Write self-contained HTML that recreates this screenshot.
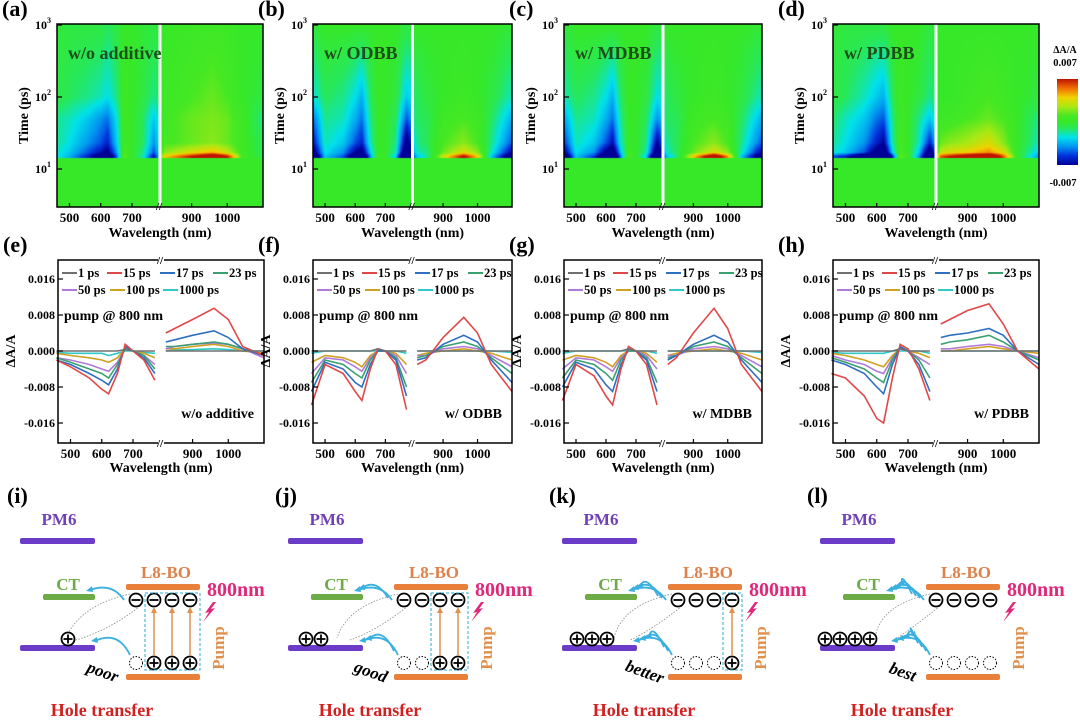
<!DOCTYPE html>
<html><head><meta charset="utf-8">
<style>
html,body{margin:0;padding:0;background:#fff;}
#root{position:relative;width:1080px;height:720px;overflow:hidden;font-family:"Liberation Serif",serif;}
canvas{position:absolute;}
svg{position:absolute;left:0;top:0;}
text{font-family:"Liberation Serif",serif;font-weight:bold;}
</style></head>
<body>
<div id="root">
<svg id="svg" width="1080" height="720"></svg>
</div>
<script>
// ---- data ----
const wavelengths = [455,500,560,600,622,650,675,700,735,770, 825,850,900,960,1000,1040,1100];
const seriesNames = ["1 ps","15 ps","17 ps","23 ps","50 ps","100 ps","1000 ps"];
const seriesTimes = [1,15,17,23,50,100,1000];
const seriesColors = ["#707070","#e04848","#2f6fc0","#3aa070","#b07ad8","#d0a020","#30c8c8"];
const panelNames = ["w/o additive","w/ ODBB","w/ MDBB","w/ PDBB"];
const yTicks = [0.016,0.008,0,-0.008,-0.016];
const yTickLabels = ["0.016","0.008","0.000","-0.008","-0.016"];
const xTicks = [500,600,700,900,1000];
// values in units of 1e-3
const e1 = [0,0,0,0,0,0,0.3,0,0,0, 0,0,0,0,0,0,0];
const e15 = [-2,-3.5,-6,-8.5,-9.5,-5,1.5,0,-2,-6.5, 4,5,7,9.5,7,1,-1];
const e17 = [-2,-3,-5,-6.5,-7.5,-4,1,0,-1.5,-5, 2,2.5,3.5,4.5,3,0.5,-1];
const e23 = [-1.5,-2.5,-4,-5,-6,-3,0.5,0,-1,-4, 1,1,1.5,2,1.5,0.5,-1];
const e50 = [-1.5,-2,-3,-4,-4.5,-2.5,0.5,0,-1,-3, 0.5,1,1.5,1.8,1.5,0.5,-1.5];
const e100 = [-0.5,-1,-1.5,-2,-2.5,-1.5,0.5,0,-0.5,-1.5, 0.5,0.5,1,1.5,1,0,-0.5];
const e1000 = [-0.3,-0.5,-0.5,-0.5,-1,-0.5,0,0,-0.3,-0.5, 0,0.2,0.3,0.5,0.3,0,0];
const f1 = [0,0,0,0,0,0,0.5,0,0,0, 0,0,0,0,0,0,0];
const f15 = [-12,-3,-5,-9,-11,-4,0.5,0,-3,-13, -3,-2,3,7.5,4,-3,-9];
const f17 = [-9,-2.5,-4,-7,-8,-3,0,0,-2,-10, -2,-1.5,1.5,3.5,2,-2,-7];
const f23 = [-7,-2,-3,-5,-6,-2,0,0,-1.5,-8, -1.5,-1,1,2,1,-1.5,-5];
const f50 = [-5,-1.5,-2,-3.5,-4.5,-1.5,0,0,-1,-5, -1,-1,0.5,1,0.5,-1,-3.5];
const f100 = [-2.5,-1,-1.5,-2.5,-3.5,-1,0,0,-0.5,-3, -1,-0.5,0,0.5,0,-0.5,-2];
const f1000 = [-0.5,0,0,0,0,0,0,0,0,-0.5, 0,0,0,0,0,0,-0.3];
const g1 = [0,0,0,0,0,0,0.5,0,0,0, 0,0,0,0,0,0,0];
const g15 = [-11,-3,-5.5,-10,-12,-4,1,0,-3,-12, -3,-1.5,4,9.5,5,-3,-9];
const g17 = [-8,-2.5,-4,-7.5,-9,-3,0.5,0,-2,-9, -2,-1,1.5,3.5,2,-2,-7];
const g23 = [-6,-2,-3,-5,-6.5,-2,0,0,-1.5,-7, -1.5,-1,1,2,1,-1.5,-5];
const g50 = [-4,-1.5,-2,-3.5,-4.5,-1.5,0,0,-1,-4, -1,-1,0.5,1,0.5,-1,-3.5];
const g100 = [-2,-1,-1.5,-2.5,-3.5,-1,0,0,-0.5,-2.5, -1,-0.5,0,0.5,0,-0.5,-2];
const g1000 = [-0.5,0,0,0,0,0,0,0,0,-0.5, 0,0,0,0,0,0,-0.3];
const h1 = [0,0,0,0,0,0,0.5,0,0,0, 0,0,0,0,0,0,0];
const h15 = [-5,-6,-10,-15,-16,-6,1.5,0.5,-4,-11, 6,7,9,10.5,6,0,-4];
const h17 = [-2,-3,-5,-8,-9.5,-3,1,0,-3,-9, 3,3.5,4,5,3.5,0,-3];
const h23 = [-1.5,-2.5,-4,-6,-7,-2,1,0,-2,-6, 1.5,2,2.5,3.5,2,0,-2];
const h50 = [-1,-2,-3,-4.5,-5,-1.5,0.5,0,-1.5,-3, 0.5,0.5,1,1.5,1,0,-1.5];
const h100 = [-0.5,-1,-2,-3,-3.5,-1,0.5,0,-0.5,-1.5, 0,0,0.5,1,0.5,0,-0.5];
const h1000 = [-0.3,-0.5,-0.5,-0.5,-0.5,0,0,0,0,-0.5, 0,0,0,0,0,0,0];
const panelSeries = [
  [e1,e15,e17,e23,e50,e100,e1000],
  [f1,f15,f17,f23,f50,f100,f1000],
  [g1,g15,g17,g23,g50,g100,g1000],
  [h1,h15,h17,h23,h50,h100,h1000]
];
const holesTransferred = [1,2,3,4];
const transferWords = ["poor","good","better","best"];

// ---- layout ----
const topL=[57,313,564,833], topW=[206,199,198,206], topT=24, topB=207;
const spL=[58,313,564,833], spW=[206,199,198,206], spT=260, spB=443;
const diagDX=[0,268,542,800];
const topLetters=["(a)","(b)","(c)","(d)"], spLetters=["(e)","(f)","(g)","(h)"], dLetters=["(i)","(j)","(k)","(l)"];

const NS="http://www.w3.org/2000/svg";
const svg=document.getElementById('svg');
function mk(tag,attrs,parent,txt){const e=document.createElementNS(NS,tag);for(const k in attrs)e.setAttribute(k,attrs[k]);if(txt!==undefined)e.textContent=txt;(parent||svg).appendChild(e);return e;}

function xScale(w,L,W){
  const half=W/2;
  if(w<=790) return L+(w-460)/(780-460)*(half-3);
  return L+half+3+(w-820)/(1100-820)*(half-3);
}
function yTime(t){return 169-(Math.log10(t)-1)*72;}
function ySpec(v){return 351-v*4.5;}

function interp(arr,w){
  if(w<=wavelengths[0])return arr[0];
  for(let i=0;i<wavelengths.length-1;i++){
    if(w<=wavelengths[i+1]){const a=wavelengths[i],b=wavelengths[i+1];return arr[i]+(arr[i+1]-arr[i])*(w-a)/(b-a);}
  }
  return arr[arr.length-1];
}
function valueAt(p,w,t){
  if(t<14)return 0;
  const s=panelSeries[p];
  if(t<=15)return interp(s[1],w);
  const lt=Math.log10(t);
  for(let i=1;i<seriesTimes.length-1;i++){
    if(t<=seriesTimes[i+1]){
      const a=Math.log10(seriesTimes[i]),b=Math.log10(seriesTimes[i+1]);
      const f=(lt-a)/(b-a);
      return interp(s[i],w)*(1-f)+interp(s[i+1],w)*f;
    }
  }
  return interp(s[6],w);
}
const cStops=[[-7,[0,0,150]],[-5.5,[0,50,220]],[-4,[0,150,240]],[-2.5,[0,225,235]],[-1,[40,232,90]],[0,[55,232,40]],[1,[70,232,35]],[2.5,[170,232,20]],[4,[240,210,0]],[5.5,[240,110,0]],[7,[190,20,0]]];
function cmap(v){
  if(v<=cStops[0][0])return cStops[0][1];
  for(let i=0;i<cStops.length-1;i++){
    if(v<=cStops[i+1][0]){const f=(v-cStops[i][0])/(cStops[i+1][0]-cStops[i][0]);
      return cStops[i][1].map((c,k)=>Math.round(c+(cStops[i+1][1][k]-c)*f));}
  }
  return cStops[cStops.length-1][1];
}
function invX(x,L,W){
  const half=W/2;
  if(x<L+half) return 460+(x-L)/(half-3)*(780-460);
  return 820+(x-L-half-3)/(half-3)*(1100-820);
}

const root=document.getElementById('root');
// ---- heatmaps ----
for(let p=0;p<4;p++){
  const L=topL[p],W=topW[p],H=topB-topT;
  const cv=document.createElement('canvas');
  cv.width=W;cv.height=H;cv.style.left=L+'px';cv.style.top=topT+'px';
  
  
  root.insertBefore(cv,svg);
  const ctx=cv.getContext('2d');const img=ctx.createImageData(W,H);
  for(let y=0;y<H;y++){
    const t=Math.pow(10,1+(169-(topT+y+0.5))/72);
    for(let x=0;x<W;x++){
      const w=invX(L+x+0.5,L,W);
      const c=cmap(valueAt(p,w,t));
      const i=(y*W+x)*4;img.data[i]=c[0];img.data[i+1]=c[1];img.data[i+2]=c[2];img.data[i+3]=255;
    }
  }
  ctx.putImageData(img,0,0);
  const g=mk('g',{});
  const bx=L+W/2;
  mk('rect',{x:bx-1.5,y:topT,width:3,height:H,fill:'#fff'},g);
  mk('rect',{x:L,y:topT,width:W,height:H,fill:'none',stroke:'#000','stroke-width':1.5},g);
  mk('text',{x:L-55,y:16,'font-size':22},g,topLetters[p]);
  mk('text',{x:L+11,y:59,'font-size':18,fill:'#1c4f1c'},g,panelNames[p]);
  [1000,100,10].forEach((t,i)=>{
    const y=yTime(t);
    mk('line',{x1:L,x2:L+5,y1:y,y2:y,stroke:'#000','stroke-width':1.2},g);
    const tx=mk('text',{x:L-22,y:y+4,'font-size':12},g,'10');
    mk('tspan',{'font-size':8,dy:-6},tx,String(3-i));
  });
  xTicks.forEach(w=>{
    const x=xScale(w,L,W);
    mk('line',{x1:x,x2:x,y1:topB,y2:topB-4,stroke:'#000','stroke-width':1.2},g);
    mk('text',{x:x,y:222,'font-size':13,'text-anchor':'middle'},g,String(w));
  });
  mk('text',{x:bx-4,y:topB+3,'font-size':11},g,'//');
  mk('text',{x:L+W/2,y:237,'font-size':14,'text-anchor':'middle',},g,'Wavelength (nm)');
  mk('text',{x:0,y:0,'font-size':14,'text-anchor':'middle',transform:`translate(${L-29},${(topT+topB)/2}) rotate(-90)`,},g,'Time (ps)');
}
// colorbar
(function(){
  const g=mk('g',{});
  const defs=mk('defs',{},g);
  const lg=mk('linearGradient',{id:'cbg',x1:0,y1:1,x2:0,y2:0},defs);
  cStops.forEach(s=>mk('stop',{offset:((s[0]+7)/14*100)+'%','stop-color':`rgb(${s[1].join(',')})`},lg));
  mk('rect',{x:1057,y:79,width:21,height:86,fill:'url(#cbg)'},g);
  mk('text',{x:1065,y:53,'font-size':10,'text-anchor':'middle'},g,'ΔA/A');
  mk('text',{x:1065,y:66,'font-size':10.5,'text-anchor':'middle'},g,'0.007');
  mk('text',{x:1063,y:186,'font-size':10.5,'text-anchor':'middle'},g,'-0.007');
})();

// ---- spectra ----
for(let p=0;p<4;p++){
  const L=spL[p],W=spW[p];
  const g=mk('g',{});
  mk('text',{x:L-55,y:252,'font-size':22},g,spLetters[p]);
  const s=panelSeries[p];
  const order=[6,5,4,3,2,1,0];
  order.forEach(k=>{
    const arr=s[k];
    const left=[],right=[];
    wavelengths.forEach((w,i)=>{const pt=xScale(w,L,W).toFixed(1)+','+ySpec(arr[i]).toFixed(1);(w<790?left:right).push(pt);});
    const sg=mk('g',{},g);
    mk('polyline',{points:left.join(' '),fill:'none',stroke:seriesColors[k],'stroke-width':1.6},sg);
    mk('polyline',{points:right.join(' '),fill:'none',stroke:seriesColors[k],'stroke-width':1.6},sg);
  });
  mk('rect',{x:L,y:spT,width:W,height:spB-spT,fill:'none',stroke:'#000','stroke-width':1.5},g);
  const bx=L+W/2;
  mk('rect',{x:bx-3,y:spT-3,width:6,height:6,fill:'#fff'},g);
  mk('rect',{x:bx-3,y:spB-3,width:6,height:6,fill:'#fff'},g);
  mk('text',{x:bx-4,y:spT+4,'font-size':11},g,'//');
  mk('text',{x:bx-4,y:spB+4,'font-size':11},g,'//');
  yTicks.forEach((v,i)=>{
    const y=ySpec(v*1000);
    mk('line',{x1:L,x2:L+5,y1:y,y2:y,stroke:'#000','stroke-width':1.2},g);
    mk('text',{x:L-3,y:y+4,'font-size':12,'text-anchor':'end'},g,yTickLabels[i]);
  });
  xTicks.forEach(w=>{
    const x=xScale(w,L,W);
    mk('line',{x1:x,x2:x,y1:spB,y2:spB-4,stroke:'#000','stroke-width':1.2},g);
    mk('text',{x:x,y:458,'font-size':13,'text-anchor':'middle'},g,String(w));
  });
  mk('text',{x:L+W/2,y:472,'font-size':14,'text-anchor':'middle',},g,'Wavelength (nm)');
  mk('text',{x:0,y:0,'font-size':14,'text-anchor':'middle',transform:`translate(${L-43},${ySpec(0)}) rotate(-90)`,},g,'ΔA/A');
  const lx=[4,49,102,155,4,52,105], ly=[273,273,273,273,290,290,290];
  const lgG=mk('g',{},g);
  seriesNames.forEach((n,k)=>{
    const e=mk('g',{},lgG);
    mk('line',{x1:L+lx[k],x2:L+lx[k]+15,y1:ly[k],y2:ly[k],stroke:seriesColors[k],'stroke-width':2},e);
    mk('text',{x:L+lx[k]+16,y:ly[k]+4,'font-size':12.5},e,n);
  });
  mk('text',{x:L+6,y:320,'font-size':14},g,'pump @ 800 nm');
  mk('text',{x:L+W-10,y:418,'font-size':14,'text-anchor':'end'},g,panelNames[p]);
}

// ---- diagrams ----
function circ(g,x,y,sign,dotted){
  mk('circle',{cx:x,cy:y,r:6.5,fill:'#fff',stroke:'#000','stroke-width':dotted?1:1.8,'stroke-dasharray':dotted?'1.5,1.5':'none'},g);
  if(dotted)return;
  mk('line',{x1:x-4.5,x2:x+4.5,y1:y,y2:y,stroke:'#000','stroke-width':1.8},g);
  if(sign>0)mk('line',{x1:x,x2:x,y1:y-4.5,y2:y+4.5,stroke:'#000','stroke-width':1.8},g);
}
for(let p=0;p<4;p++){
  const d=diagDX[p], n=holesTransferred[p];
  const g=mk('g',{});
  mk('text',{x:d+7,y:503,'font-size':22},g,dLetters[p]);
  mk('text',{x:d+59,y:525,'font-size':17,fill:'#7040b8','text-anchor':'middle'},g,'PM6');
  mk('rect',{x:d+20,y:538,width:75,height:6,rx:2,fill:'#6a3cc8'},g);
  mk('text',{x:d+166,y:578,'font-size':17,fill:'#e0804a','text-anchor':'middle'},g,'L8-BO');
  mk('rect',{x:d+126,y:584,width:74,height:6,rx:2,fill:'#e87f3a'},g);
  mk('text',{x:d+68,y:590,'font-size':17,fill:'#6cab45','text-anchor':'middle'},g,'CT');
  mk('rect',{x:d+43,y:594,width:52,height:6,rx:2,fill:'#6cab45'},g);
  mk('rect',{x:d+20,y:645,width:75,height:6,rx:2,fill:'#6a3cc8'},g);
  mk('rect',{x:d+126,y:674,width:74,height:6,rx:2,fill:'#e87f3a'},g);
  mk('path',{d:`M${d+130},${594} Q${d+80},${605} ${d+63+n*3},${638}`,fill:'none',stroke:'#888','stroke-width':0.8,'stroke-dasharray':'1.5,1.5'},g);
  mk('path',{d:`M${d+140},${606} Q${d+110},${630} ${d+70+n*6},${640}`,fill:'none',stroke:'#888','stroke-width':0.8,'stroke-dasharray':'1.5,1.5'},g);
  const xs=[136,154,172,190];
  xs.forEach(x=>circ(g,d+x,600,-1,false));
  xs.forEach((x,i)=>circ(g,d+x,663,1,i<n));
  const hx0 = n===1?68:(n===2?38:(n===3?35:25));
  for(let i=0;i<n;i++) circ(g,d+hx0+i*15,639,1,false);
  if(n<4){
    const bx0=d+xs[n]-9;
    mk('rect',{x:bx0,y:593,width:d+200-bx0,height:77,fill:'none',stroke:'#2aa8d8','stroke-width':1,'stroke-dasharray':'3,2'},g);
    for(let i=n;i<4;i++){
      const x=d+xs[i];
      mk('line',{x1:x,x2:x,y1:656,y2:612,stroke:'#e0904a','stroke-width':1.5},g);
      mk('path',{d:`M${x-3},${613} L${x},${607} L${x+3},${613}Z`,fill:'#e0904a'},g);
    }
  }
  for(let i=0;i<n;i++){
    const o=i*4;
    mk('path',{d:`M${d+130-o},${655-o} Q${d+118-o},${630-o} ${d+95+o*1.5},${641-o*0.5}`,fill:'none',stroke:'#3ab0e0','stroke-width':1.8},g);
    mk('path',{d:`M${d+97+o*1.5},${637-o*0.5} l-6,4 l7,2z`,fill:'#3ab0e0'},g);
    mk('path',{d:`M${d+124-o},${600-o*0.5} Q${d+112-o},${582-o} ${d+90+o},${590-o*0.5}`,fill:'none',stroke:'#3ab0e0','stroke-width':1.8},g);
    mk('path',{d:`M${d+92+o},${586-o*0.5} l-6,5 l7,1z`,fill:'#3ab0e0'},g);
  }
  mk('text',{x:d+207,y:596,'font-size':20,fill:'#e0287a'},g,'800nm');
  mk('path',{d:`M${d+213},${602} L${d+205},${613} L${d+209},${612} L${d+203},${622} L${d+215},${608} L${d+211},${609} L${d+216},${602}Z`,fill:'#e0287a'},g);
  mk('text',{x:0,y:0,'font-size':17,fill:'#e0904a','text-anchor':'middle',transform:`translate(${d+224},${648}) rotate(-90)`},g,'Pump');
  mk('text',{x:0,y:0,'font-size':17,fill:'#000','font-style':'italic','text-anchor':'middle',transform:`translate(${d+101},${677}) rotate(20)`},g,transferWords[p]);
  mk('text',{x:d+102,y:716,'font-size':18,fill:'#d02020','text-anchor':'middle'},g,'Hole transfer');
}
</script>
</body></html>
